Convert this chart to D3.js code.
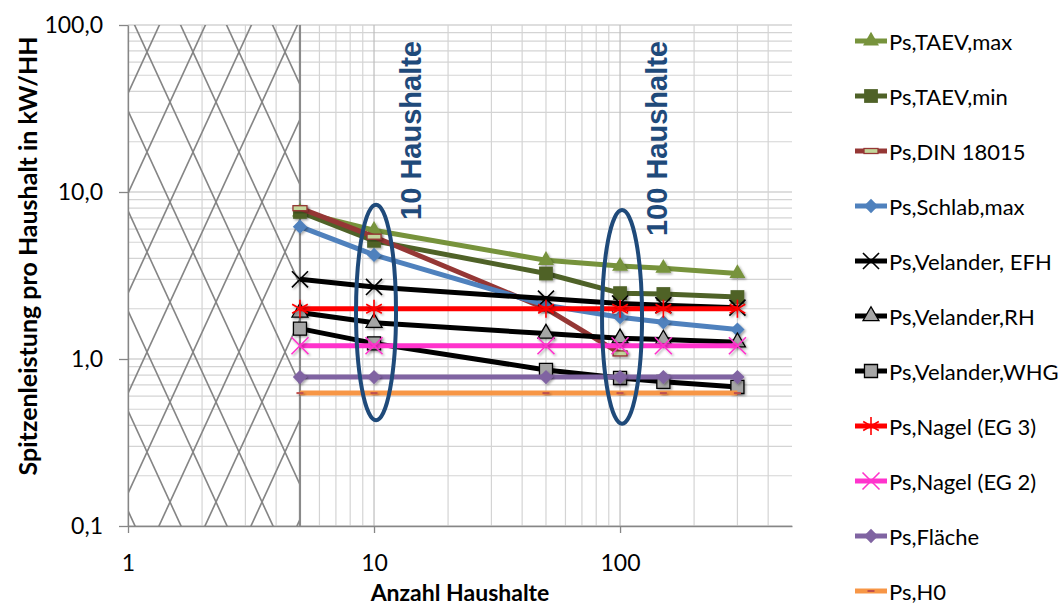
<!DOCTYPE html>
<html>
<head>
<meta charset="utf-8">
<script src="https://cdn.jsdelivr.net/npm/d3@7"></script>
<style>
  body { margin: 0; background: #fff; }
  text { font-family: Lato, "Open Sans", sans-serif; fill: #000; }
</style>
</head>
<body>
<div id="chart"></div>
<script>
// x values (Anzahl Haushalte)
var households = [5, 10, 50, 100, 150, 300];
var householdsDin = [5, 10, 50, 100];

// series values in kW/HH
var taevMax = [7.6, 5.9, 3.9, 3.6, 3.5, 3.25];
var taevMin = [7.6, 5.1, 3.25, 2.48, 2.45, 2.35];
var din18015 = [8.0, 5.4, 2.0, 1.08];
var schlabMax = [6.2, 4.2, 2.1, 1.78, 1.66, 1.5];
var velanderEFH = [3.0, 2.7, 2.3, 2.15, 2.1, 2.03];
var velanderRH = [1.9, 1.65, 1.42, 1.33, 1.31, 1.26];
var velanderWHG = [1.52, 1.24, 0.86, 0.77, 0.73, 0.68];
var nagelEG3 = [2.0, 2.0, 2.0, 2.0, 2.0, 2.0];
var nagelEG2 = [1.2, 1.2, 1.2, 1.2, 1.2, 1.2];
var flaeche = [0.78, 0.78, 0.78, 0.78, 0.78, 0.78];
var h0 = [0.625, 0.625, 0.625, 0.625, 0.625, 0.625];

var seriesNames = ["Ps,TAEV,max", "Ps,TAEV,min", "Ps,DIN 18015", "Ps,Schlab,max",
  "Ps,Velander, EFH", "Ps,Velander,RH", "Ps,Velander,WHG", "Ps,Nagel (EG 3)",
  "Ps,Nagel (EG 2)", "Ps,Fläche", "Ps,H0"];

// tick labels
var xTicks = [1, 10, 100];
var yTicks = [0.1, 1, 10, 100];

// annotations
var annoHouseholds = [10, 100];
var annoLabels = ["10 Haushalte", "100 Haushalte"];

var W = 1059, H = 608;
var svg = d3.select("#chart").append("svg")
  .attr("width", W).attr("height", H);

svg.append("rect").attr("width", W).attr("height", H).attr("fill", "#fff");

var x = d3.scaleLog().domain([1, 500]).range([128, 792]);
var y = d3.scaleLog().domain([0.1, 100]).range([526, 25]);

var defs = svg.append("defs");
var pat = defs.append("pattern")
  .attr("id", "hatch")
  .attr("patternUnits", "userSpaceOnUse")
  .attr("x", 147).attr("y", 52)
  .attr("width", 46).attr("height", 100);
pat.append("line").attr("x1", 0).attr("y1", 0).attr("x2", 46).attr("y2", 100)
  .attr("stroke", "#858585").attr("stroke-width", 1.6);
pat.append("line").attr("x1", 46).attr("y1", 0).attr("x2", 0).attr("y2", 100)
  .attr("stroke", "#858585").attr("stroke-width", 1.6);

var shadow = defs.append("filter").attr("id", "shadow")
  .attr("x", "-50%").attr("y", "-50%").attr("width", "200%").attr("height", "200%");
shadow.append("feDropShadow").attr("dx", 1.5).attr("dy", 1.5)
  .attr("stdDeviation", 1.2).attr("flood-color", "#000").attr("flood-opacity", 0.35);

// grid lines
function minorValues(lo, hi) {
  var out = [];
  for (var d = lo; d < hi; d *= 10) {
    for (var k = 1; k <= 9; k++) out.push(Math.round(d * k * 1000) / 1000);
  }
  return out;
}
var xGrid = minorValues(1, 500).filter(function (v) { return v <= 400; });
var yGrid = minorValues(0.1, 100).concat([100]);

var grid = svg.append("g");
grid.selectAll(".gy").data(yGrid).enter().append("line")
  .attr("x1", x(1)).attr("x2", x(500))
  .attr("y1", function (d) { return y(d); }).attr("y2", function (d) { return y(d); })
  .attr("stroke", function (d) { return yTicks.indexOf(d) >= 0 ? "#bdbdbd" : "#d4d4d4"; })
  .attr("stroke-width", 1.2);
grid.selectAll(".gx").data(xGrid).enter().append("line")
  .attr("y1", y(0.1)).attr("y2", y(100))
  .attr("x1", function (d) { return x(d); }).attr("x2", function (d) { return x(d); })
  .attr("stroke", function (d) { return xTicks.indexOf(d) >= 0 ? "#bdbdbd" : "#d4d4d4"; })
  .attr("stroke-width", 1.2);

// hatched region 1..5 households
svg.append("rect")
  .attr("x", x(1)).attr("y", y(100))
  .attr("width", x(5) - x(1)).attr("height", y(0.1) - y(100))
  .attr("fill", "url(#hatch)");
svg.append("line")
  .attr("x1", x(5)).attr("x2", x(5)).attr("y1", y(100)).attr("y2", y(0.1))
  .attr("stroke", "#8a8a8a").attr("stroke-width", 2.2);

// axes
var xAxis = svg.append("g")
  .attr("transform", "translate(0," + y(0.1) + ")")
  .call(d3.axisBottom(x).tickValues(xTicks).tickFormat(d3.format("d"))
    .tickSize(7).tickPadding(22).tickSizeOuter(0));
var yAxis = svg.append("g")
  .attr("transform", "translate(" + x(1) + ",0)")
  .call(d3.axisLeft(y).tickValues(yTicks)
    .tickFormat(function (d) { return d.toFixed(1).replace(".", ","); })
    .tickSize(9).tickPadding(16).tickSizeOuter(0));
[xAxis, yAxis].forEach(function (a) {
  a.select(".domain").attr("stroke", "#868686").attr("stroke-width", 1.3);
  a.selectAll(".tick line").attr("stroke", "#868686").attr("stroke-width", 1.3);
  a.selectAll(".tick text").style("font-size", "23px").attr("fill", "#000")
    .style("font-family", "Lato, sans-serif");
});

svg.append("text")
  .attr("x", 460).attr("y", 601)
  .attr("text-anchor", "middle")
  .style("font-size", "23px").style("font-weight", "bold")
  .text("Anzahl Haushalte");
svg.append("text")
  .attr("transform", "translate(37,256) rotate(-90)")
  .attr("text-anchor", "middle")
  .style("font-size", "25px").style("font-weight", "bold")
  .text("Spitzenleistung pro Haushalt in kW/HH");

// custom stroke symbols
var symX = d3.symbolTimes || d3.symbolX;
var symAst = d3.symbolAsterisk;
var symDiamond = d3.symbolDiamond2 || d3.symbolDiamond;

var series = [
  { name: seriesNames[0], xs: households, ys: taevMax, color: "#77933c", w: 5,
    sym: d3.symbolTriangle, size: 110, fill: "#77933c", stroke: "none" },
  { name: seriesNames[1], xs: households, ys: taevMin, color: "#4f6228", w: 5,
    sym: d3.symbolSquare, size: 190, fill: "#4f6228", stroke: "none" },
  { name: seriesNames[2], xs: householdsDin, ys: din18015, color: "#953735", w: 5,
    sym: "dash", fill: "#c3d69b", stroke: "#953735" },
  { name: seriesNames[3], xs: households, ys: schlabMax, color: "#4f81bd", w: 5,
    sym: symDiamond, size: 130, fill: "#4f81bd", stroke: "none" },
  { name: seriesNames[4], xs: households, ys: velanderEFH, color: "#000", w: 5,
    sym: symX, size: 170, fill: "none", stroke: "#000", sw: 1.6 },
  { name: seriesNames[5], xs: households, ys: velanderRH, color: "#000", w: 5,
    sym: d3.symbolTriangle, size: 110, fill: "#a6a6a6", stroke: "#000", sw: 1.3 },
  { name: seriesNames[6], xs: households, ys: velanderWHG, color: "#000", w: 5,
    sym: d3.symbolSquare, size: 170, fill: "#a6a6a6", stroke: "#000", sw: 1.3 },
  { name: seriesNames[7], xs: households, ys: nagelEG3, color: "#ff0000", w: 5,
    sym: symAst, size: 230, fill: "none", stroke: "#ff0000", sw: 1.6 },
  { name: seriesNames[8], xs: households, ys: nagelEG2, color: "#ff33cc", w: 5,
    sym: symX, size: 190, fill: "none", stroke: "#ff33cc", sw: 1.6 },
  { name: seriesNames[9], xs: households, ys: flaeche, color: "#8064a2", w: 5,
    sym: symDiamond, size: 130, fill: "#8064a2", stroke: "none" },
  { name: seriesNames[10], xs: households, ys: h0, color: "#f79646", w: 5,
    sym: "minus", fill: "#c0504d", stroke: "none" }
];

function drawMarker(g, s) {
  if (s.sym === "dash") {
    g.append("rect").attr("x", -7).attr("y", -2.5).attr("width", 14).attr("height", 5)
      .attr("fill", s.fill).attr("stroke", s.stroke).attr("stroke-width", 1.3);
  } else if (s.sym === "minus") {
    g.append("rect").attr("x", -3.5).attr("y", -1).attr("width", 7).attr("height", 2)
      .attr("fill", s.fill);
  } else {
    g.append("path").attr("d", d3.symbol().type(s.sym).size(s.size)())
      .attr("fill", s.fill).attr("stroke", s.stroke)
      .attr("stroke-width", s.sw || 0);
  }
}

var line = d3.line()
  .x(function (d) { return x(d[0]); })
  .y(function (d) { return y(d[1]); });

var plot = svg.append("g");
series.forEach(function (s) {
  var pts = s.xs.map(function (v, i) { return [v, s.ys[i]]; });
  var g = plot.append("g");
  g.append("path").datum(pts).attr("d", line)
    .attr("fill", "none").attr("stroke", s.color).attr("stroke-width", s.w)
    .attr("stroke-linejoin", "round");
  g.selectAll(".m").data(pts).enter().append("g")
    .attr("transform", function (d) { return "translate(" + x(d[0]) + "," + y(d[1]) + ")"; })
    .attr("filter", "url(#shadow)")
    .each(function () { drawMarker(d3.select(this), s); });
});

// annotations: ellipses and rotated labels
var annoTop = [8.4, 7.8];
var annoBottom = [0.43, 0.41];
annoHouseholds.forEach(function (hh, i) {
  var top = y(annoTop[i]), bottom = y(annoBottom[i]);
  svg.append("ellipse")
    .attr("cx", x(hh) + 2).attr("cy", (top + bottom) / 2)
    .attr("rx", 20).attr("ry", (bottom - top) / 2)
    .attr("fill", "none").attr("stroke", "#1f4a7a").attr("stroke-width", 4);
  svg.append("text")
    .attr("transform", "translate(" + (x(hh) + 37) + "," + (y(100) + 16) + ") rotate(-90)")
    .attr("text-anchor", "end").attr("dominant-baseline", "central")
    .style("font-family", "'Liberation Sans', Arial, sans-serif")
    .style("font-size", "29px").style("font-weight", "bold")
    .attr("fill", "#1f4a7a").style("fill", "#1f4a7a")
    .text(annoLabels[i]);
});

// legend
var legend = svg.append("g");
series.forEach(function (s, i) {
  var ly = 41 + i * 55;
  var g = legend.append("g").attr("transform", "translate(0," + ly + ")");
  g.append("line").attr("x1", 855).attr("x2", 887).attr("y1", 0).attr("y2", 0)
    .attr("stroke", s.color).attr("stroke-width", 5);
  var mg = g.append("g").attr("transform", "translate(871,0)");
  drawMarker(mg, s);
  g.append("text").attr("x", 889).attr("y", 0)
    .attr("dominant-baseline", "central")
    .style("font-size", "22px")
    .text(s.name);
});
</script>
</body>
</html>
